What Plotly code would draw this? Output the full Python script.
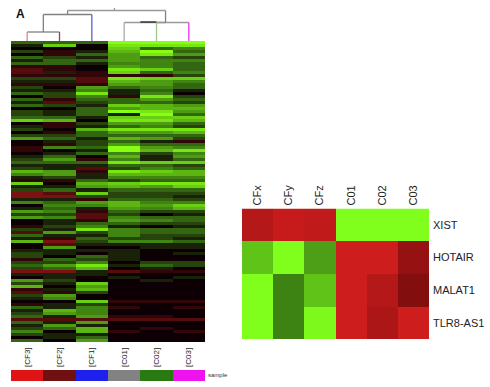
import plotly.graph_objects as go

W, H = 490, 387

# Left heatmap: expression level per row (negative = red, 0 = black, positive = green)
samples = ["[CF3]", "[CF2]", "[CF1]", "[C01]", "[C02]", "[C03]"]
expr_rows = [
    [3, 3, 3, 9, 9, 9], [1, 7, 0, 8, 8, 8], [0, 0, 0, 7, 3, 4], [2, -1, 1, 6, 9, 3],
    [0, -1, 3, 5, 8, 5], [3, 2, 1, 5, 3, 2], [1, 3, 3, 5, 4, 4], [3, 3, 1, 4, 4, 3],
    [-1, -1, 0, 5, 4, 3], [-2, -1, 0, 8, 7, 3], [-2, 1, -1, 7, 3, 4], [-1, -1, -1, -1, -1, 2],
    [2, 2, -2, 8, 7, 7], [1, 1, -2, 6, 5, 4], [-1, -1, -1, 5, 5, 3], [2, 0, 5, 3, 4, 3],
    [1, 1, 4, 1, 3, 1], [3, 2, 8, 1, 4, 0], [0, 2, 4, -1, 8, 2], [3, -1, 3, 3, 5, 3],
    [1, -2, 2, 3, 3, 2], [3, 2, 1, 7, 6, 5], [0, 0, 3, 5, 6, 6], [2, 1, 3, 9, 8, 5],
    [2, 1, 3, 1, 9, 3], [3, 3, 1, 7, 7, 7], [7, 6, 0, 8, 8, 6], [0, -1, 2, 5, 5, 3],
    [1, -1, 1, 3, 4, 2], [2, 0, 6, 8, 8, 8], [0, -1, 3, 5, 5, 6], [2, 2, 3, 3, 3, 3],
    [5, 3, 1, 6, 5, 2], [0, 1, 2, 3, 1, -1], [0, -1, 2, 5, 3, 3], [-1, 4, 3, 9, 5, 4],
    [-1, 0, 1, 9, 6, 8], [0, 1, 3, 4, 2, 4], [1, 3, 0, 6, 1, 5], [2, 5, -1, 4, 1, 3],
    [3, 3, 3, 8, 7, 7], [1, 1, 1, 3, 3, 2], [2, 1, -2, 2, 4, 3], [6, 5, -1, 8, 7, 6],
    [4, 5, 1, 6, 6, 6], [1, 2, 1, 4, 4, 4], [-1, -1, 3, 2, 3, 3], [7, 0, 6, 7, 8, 8],
    [1, 1, 5, 6, 5, 7], [2, 3, 1, 3, 3, 3], [-3, -2, 7, 2, 2, 2], [-3, -3, 2, 2, 2, 1],
    [1, 1, -1, 3, 3, 2], [4, 3, 5, 6, 4, 4], [0, 4, 4, 6, 5, 7], [1, 3, 1, 5, 4, 6],
    [5, 4, -1, 3, 2, 2], [2, 2, -2, 2, 0, 1], [5, 4, -2, 4, 3, 3], [0, 1, -1, 5, 4, 3],
    [0, 1, 3, 3, 2, 2], [-1, 2, 4, 1, 0, 1], [2, 1, 8, 4, 3, 3], [-2, 5, 2, 4, 3, 3],
    [3, 1, 1, 4, 2, 2], [1, -1, 3, 2, 2, 1], [6, -3, 2, 4, 4, 3], [0, -2, 1, 1, 1, 1],
    [0, 5, 0, 0, 1, 1], [1, 1, 1, 1, 0, 0], [2, 1, 0, 1, 0, 1], [2, 0, 3, 1, 0, 0],
    [-1, 3, 2, 1, 0, 0], [2, 2, 4, 0, 2, 2], [3, 5, 8, 1, 3, 2], [2, 3, 6, 0, 1, 0],
    [-3, -3, 1, -2, -1, -1], [1, 1, 1, 0, 0, 0], [0, 1, 0, 1, 0, 1], [5, 2, 0, 0, 1, 0],
    [2, 1, 7, 0, 0, 0], [6, 0, 5, 0, 0, 0], [-1, 1, 6, 0, 0, 0], [-2, -1, 2, 0, 0, 0],
    [2, 5, 0, 0, 0, 0], [1, 4, 0, 0, 0, 0], [0, 0, 7, -1, -1, -1], [-1, 1, 2, 0, 0, 0],
    [3, 1, 4, -1, 0, -1], [1, 6, 4, 0, 0, 0], [2, 5, 4, 0, 0, 0], [3, 1, 5, -1, -1, 0],
    [5, 2, 6, 0, 0, 0], [3, 1, 5, 0, 0, 0], [1, 5, 1, 0, 0, 0], [2, 3, 6, 0, -1, 0],
    [4, 0, 6, -1, 0, -1], [2, 1, 1, 0, 0, 0], [0, 1, 3, 0, 0, 0], [3, 0, 5, 0, 0, 0],
]

# Red band row across all columns near the bottom
band_row = 92
band_values = [-2, -2, -2, -2, -2, -2]

# Sample colour strip
strip_colors = ["#df1414", "#701010", "#2020ee", "#828282", "#2a7a12", "#ee12ee"]

# Dendrogram, as merge heights over leaf indices
leaf_idx = [0, 1, 2, 3, 4, 5]
leaf_colors = ["#e88080", "#a04040", "#5a5ad8", "#aaaaaa", "#a0c880", "#ee30ee"]
h_cf21 = 9.0
h_cf = 26.5
h_c23 = 19.0
h_c = 18.5
h_root = 30.5
h_stem = 33.0

# Right heatmap
genes = ["XIST", "HOTAIR", "MALAT1", "TLR8-AS1"]
groups = ["CFx", "CFy", "CFz", "C01", "C02", "C03"]
gene_vals = [
    [0.72, 0.82, 0.78, -1.0, -1.0, -1.0],
    [-0.72, -1.0, -0.55, 0.85, 0.85, 0.55],
    [-1.0, -0.42, -0.72, 0.85, 0.72, 0.45],
    [-1.0, -0.42, -0.97, 0.85, 0.68, 0.85],
]

rows = [list(r) for r in expr_rows]
rows[band_row] = band_values

fig = go.Figure()


def dom_x(a, b):
    return [a / W, b / W]


def dom_y(top, bottom):
    return [1 - bottom / H, 1 - top / H]


# main heatmap
fig.add_trace(go.Heatmap(
    z=rows, x=leaf_idx, y=list(range(len(rows))), xaxis="x", yaxis="y",
    zmin=-3, zmax=9, showscale=False,
    colorscale=[[0, "#7a1212"], [0.25, "#0c0004"], [0.55, "#3a7a12"], [1, "#86ff12"]],
))

# dendrogram segments
cf_mid = (leaf_idx[0] + leaf_idx[1]) / 2
c23_mid = (leaf_idx[4] + leaf_idx[5]) / 2
c_right = c23_mid - 0.22
segments = [
    ([leaf_idx[0], leaf_idx[1]], [h_cf21, h_cf21], "#909090"),
    ([cf_mid, cf_mid], [h_cf21, h_cf], "#808080"),
    ([cf_mid, leaf_idx[2]], [h_cf, h_cf], "#808080"),
    ([leaf_idx[3], c_right], [h_c, h_c], "#999999"),
    ([leaf_idx[4], leaf_idx[5]], [h_c, h_c], "#999999"),
    ([leaf_idx[3] + 0.5, leaf_idx[4]], [h_c23, h_c23], "#222222"),
    ([c_right, c_right], [h_c, h_root], "#808080"),
    ([(cf_mid + leaf_idx[2]) / 2, (cf_mid + leaf_idx[2]) / 2], [h_cf, h_root], "#808080"),
    ([(cf_mid + leaf_idx[2]) / 2, c_right], [h_root, h_root], "#999999"),
    ([2.7, 2.7], [h_root, h_stem], "#999999"),
]
for xs, ys, c in segments:
    fig.add_trace(go.Scatter(x=xs, y=ys, mode="lines", xaxis="x2", yaxis="y2",
                             line=dict(color=c, width=1.3), hoverinfo="skip", showlegend=False))
leaf_tops = [h_cf21, h_cf21, h_cf, h_c, h_c, h_c]
for i, t, c in zip(leaf_idx, leaf_tops, leaf_colors):
    fig.add_trace(go.Scatter(x=[i, i], y=[0, t], mode="lines", xaxis="x2", yaxis="y2",
                             line=dict(color=c, width=1.3), hoverinfo="skip", showlegend=False))

# colour strip
n = len(strip_colors)
fig.add_trace(go.Heatmap(
    z=[list(range(n))], x=samples, xaxis="x3", yaxis="y3", zmin=0, zmax=n - 1, showscale=False,
    colorscale=[[i / (n - 1), c] for i, c in enumerate(strip_colors)],
))

# right heatmap
fig.add_trace(go.Heatmap(
    z=gene_vals, x=groups, y=genes, xaxis="x4", yaxis="y4", zmin=-1, zmax=1, showscale=False,
    colorscale=[[0, "#80ff1c"], [0.3, "#3a7f14"], [0.5, "#0c0004"], [0.7, "#7a0c0c"], [1, "#e82222"]],
))

hidden = dict(visible=False, showgrid=False, zeroline=False)
fig.update_layout(
    width=W, height=H, margin=dict(l=0, r=0, t=0, b=0),
    paper_bgcolor="white", plot_bgcolor="white", showlegend=False,
    font=dict(family="Liberation Sans", color="#222222"),
    xaxis=dict(domain=dom_x(11, 205), range=[-0.5, 5.5], **hidden),
    yaxis=dict(domain=dom_y(41, 342), range=[len(rows) - 0.5, -0.5], **hidden),
    xaxis2=dict(domain=dom_x(11, 205), range=[-0.5, 5.5], **hidden),
    yaxis2=dict(domain=dom_y(5, 41), range=[0, 36], **hidden),
    xaxis3=dict(domain=dom_x(11, 205), side="top", showgrid=False, zeroline=False, ticks="",
                showline=False, tickangle=-90, tickfont=dict(size=8, color="#222222"),
                ticklen=0, automargin=False, anchor="y3", tickvals=samples, ticktext=samples,
                ticklabelstandoff=2),
    yaxis3=dict(domain=dom_y(370, 381), **hidden),
    xaxis4=dict(domain=dom_x(242, 429), side="top", showgrid=False, zeroline=False, ticks="",
                showline=False, tickangle=-90, tickfont=dict(size=11), automargin=False,
                anchor="y4", ticklabelstandoff=2),
    yaxis4=dict(domain=dom_y(208.5, 339), autorange="reversed", side="right", showgrid=False,
                zeroline=False, ticks="", showline=False, tickfont=dict(size=11),
                automargin=False, anchor="x4", ticklabelstandoff=3),
    annotations=[
        dict(text="<b>A</b>", x=14 / W, y=1 - 14 / H, xref="paper", yref="paper", xanchor="left",
             yanchor="middle", showarrow=False, font=dict(size=12, color="#111111")),
        dict(text="sample", x=206 / W, y=1 - 375 / H, xref="paper", yref="paper", xanchor="left",
             yanchor="middle", showarrow=False, font=dict(size=6, color="#333333")),
    ],
)
fig.write_html("out.html", post_script="document.body.style.margin='0';",
               config={"displayModeBar": False})
